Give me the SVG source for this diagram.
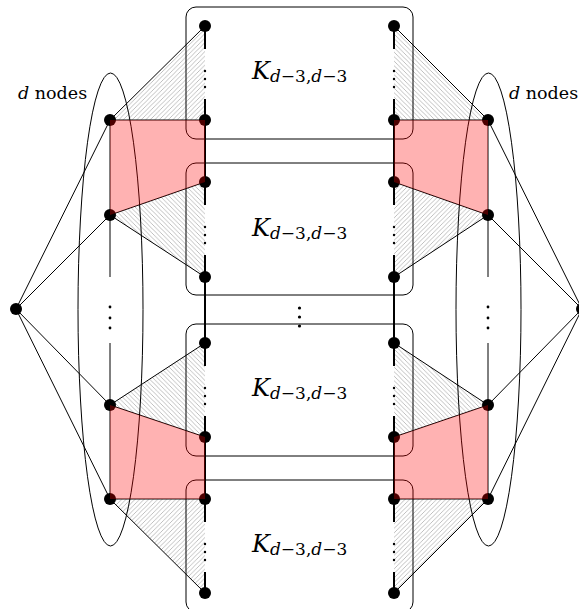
<svg xmlns="http://www.w3.org/2000/svg" width="579" height="609" viewBox="0 0 579 609">
<style>
.edge{stroke:#000;stroke-width:1;fill:none}
.col{stroke:#000;stroke-width:2;fill:none}
.box{stroke:#000;stroke-width:1;fill:none}
.ell{stroke:#000;stroke-width:1;fill:none}
.node{fill:#000}
.dot{fill:#000}
.pink{fill:#ff0000;fill-opacity:0.3;stroke:none}
.hne{fill:url(#ne);stroke:none}
.hnw{fill:url(#nw);stroke:none}
.lbl{font-family:"DejaVu Serif","Liberation Serif",serif;fill:#000}
</style>
<defs>
<pattern id="ne" patternUnits="userSpaceOnUse" width="4.5" height="4.5">
<path d="M0,4.5 L4.5,0 M-1,1 L1,-1 M3.5,5.5 L5.5,3.5" stroke="#b0b0b0" stroke-width="0.8"/>
</pattern>
<pattern id="nw" patternUnits="userSpaceOnUse" width="4.5" height="4.5">
<path d="M0,0 L4.5,4.5 M-1,3.5 L1,5.5 M3.5,-1 L5.5,1" stroke="#b0b0b0" stroke-width="0.8"/>
</pattern>
</defs>

<g id="hatches">
<polygon class="hne" points="110,120 205,26 205,120"/>
<polygon class="hnw" points="110,215 205,182 205,277"/>
<polygon class="hnw" points="110,405 205,343 205,437"/>
<polygon class="hne" points="110,499 205,499 205,593"/>
<polygon class="hnw" points="488,120 394,26 394,120"/>
<polygon class="hne" points="488,215 394,182 394,277"/>
<polygon class="hnw" points="488,405 394,343 394,437"/>
<polygon class="hne" points="488,499 394,499 394,593"/>
</g>

<g id="K1"><rect class="box" x="186" y="7" width="227" height="132" rx="10"/>
<text class="lbl" x="252" y="79" font-size="24"><tspan font-style="italic">K</tspan><tspan font-size="17" dy="3"><tspan font-style="italic">d</tspan>−3,<tspan font-style="italic">d</tspan>−3</tspan></text></g>
<g id="K2"><rect class="box" x="186" y="163" width="227" height="132" rx="10"/>
<text class="lbl" x="252" y="236" font-size="24"><tspan font-style="italic">K</tspan><tspan font-size="17" dy="3"><tspan font-style="italic">d</tspan>−3,<tspan font-style="italic">d</tspan>−3</tspan></text></g>
<g id="K3"><rect class="box" x="186" y="324" width="227" height="132" rx="10"/>
<text class="lbl" x="252" y="396" font-size="24"><tspan font-style="italic">K</tspan><tspan font-size="17" dy="3"><tspan font-style="italic">d</tspan>−3,<tspan font-style="italic">d</tspan>−3</tspan></text></g>
<g id="K4"><rect class="box" x="186" y="480" width="227" height="132" rx="10"/>
<text class="lbl" x="252" y="552" font-size="24"><tspan font-style="italic">K</tspan><tspan font-size="17" dy="3"><tspan font-style="italic">d</tspan>−3,<tspan font-style="italic">d</tspan>−3</tspan></text></g>

<g id="groups">
<ellipse class="ell" cx="110.5" cy="309.5" rx="32.5" ry="236.5"/>
<ellipse class="ell" cx="488.5" cy="309.5" rx="32.5" ry="236.5"/>
<text class="lbl" x="18" y="99" font-size="17.5"><tspan font-style="italic">d</tspan> nodes</text>
<text class="lbl" x="509" y="99" font-size="17.5"><tspan font-style="italic">d</tspan> nodes</text>
</g>

<g id="connectors">
<path class="edge" d="M16,309 L110,120 M16,309 L110,215 M16,309 L110,405 M16,309 L110,499"/>
<path class="edge" d="M582,309 L488,120 M582,309 L488,215 M582,309 L488,405 M582,309 L488,499"/>
<path class="edge" d="M110,120 L205,26 M110,120 L205,120 M110,215 L205,182 M110,215 L205,277 M110,405 L205,343 M110,405 L205,437 M110,499 L205,499 M110,499 L205,593"/>
<path class="edge" d="M488,120 L394,26 M488,120 L394,120 M488,215 L394,182 M488,215 L394,277 M488,405 L394,343 M488,405 L394,437 M488,499 L394,499 M488,499 L394,593"/>
<path class="edge" d="M110,120 L110,277 M110,343 L110,499 M488,120 L488,277 M488,343 L488,499"/>
<path class="col" d="M205,26 L205,49 M205,99 L205,205 M205,255 L205,366 M205,416 L205,522 M205,572 L205,593"/>
<path class="col" d="M394,26 L394,49 M394,99 L394,205 M394,255 L394,366 M394,416 L394,522 M394,572 L394,593"/>
</g>

<g id="vdots">
<circle class="dot" cx="110" cy="307" r="1.4"/><circle class="dot" cx="110" cy="318" r="1.4"/><circle class="dot" cx="110" cy="328" r="1.4"/>
<circle class="dot" cx="488" cy="307" r="1.4"/><circle class="dot" cx="488" cy="318" r="1.4"/><circle class="dot" cx="488" cy="328" r="1.4"/>
<circle class="dot" cx="299.5" cy="308" r="1.6"/><circle class="dot" cx="299.5" cy="317" r="1.6"/><circle class="dot" cx="299.5" cy="326" r="1.6"/>
<circle class="dot" cx="205" cy="71" r="1.2"/><circle class="dot" cx="205" cy="79" r="1.2"/><circle class="dot" cx="205" cy="87" r="1.2"/>
<circle class="dot" cx="205" cy="227" r="1.2"/><circle class="dot" cx="205" cy="235" r="1.2"/><circle class="dot" cx="205" cy="243" r="1.2"/>
<circle class="dot" cx="205" cy="388" r="1.2"/><circle class="dot" cx="205" cy="396" r="1.2"/><circle class="dot" cx="205" cy="404" r="1.2"/>
<circle class="dot" cx="205" cy="544" r="1.2"/><circle class="dot" cx="205" cy="552" r="1.2"/><circle class="dot" cx="205" cy="560" r="1.2"/>
<circle class="dot" cx="394" cy="71" r="1.2"/><circle class="dot" cx="394" cy="79" r="1.2"/><circle class="dot" cx="394" cy="87" r="1.2"/>
<circle class="dot" cx="394" cy="227" r="1.2"/><circle class="dot" cx="394" cy="235" r="1.2"/><circle class="dot" cx="394" cy="243" r="1.2"/>
<circle class="dot" cx="394" cy="388" r="1.2"/><circle class="dot" cx="394" cy="396" r="1.2"/><circle class="dot" cx="394" cy="404" r="1.2"/>
<circle class="dot" cx="394" cy="544" r="1.2"/><circle class="dot" cx="394" cy="552" r="1.2"/><circle class="dot" cx="394" cy="560" r="1.2"/>
</g>

<g id="n_lo"><circle class="node" cx="16" cy="309" r="6"/></g>
<g id="n_ro"><circle class="node" cx="582" cy="309" r="6"/></g>
<g id="L1"><circle class="node" cx="110" cy="120" r="6"/></g>
<g id="L2"><circle class="node" cx="110" cy="215" r="6"/></g>
<g id="L3"><circle class="node" cx="110" cy="405" r="6"/></g>
<g id="L4"><circle class="node" cx="110" cy="499" r="6"/></g>
<g id="R1"><circle class="node" cx="488" cy="120" r="6"/></g>
<g id="R2"><circle class="node" cx="488" cy="215" r="6"/></g>
<g id="R3"><circle class="node" cx="488" cy="405" r="6"/></g>
<g id="R4"><circle class="node" cx="488" cy="499" r="6"/></g>
<g id="A1"><circle class="node" cx="205" cy="26" r="6"/></g>
<g id="A2"><circle class="node" cx="205" cy="120" r="6"/></g>
<g id="A3"><circle class="node" cx="205" cy="182" r="6"/></g>
<g id="A4"><circle class="node" cx="205" cy="277" r="6"/></g>
<g id="A5"><circle class="node" cx="205" cy="343" r="6"/></g>
<g id="A6"><circle class="node" cx="205" cy="437" r="6"/></g>
<g id="A7"><circle class="node" cx="205" cy="499" r="6"/></g>
<g id="A8"><circle class="node" cx="205" cy="593" r="6"/></g>
<g id="B1"><circle class="node" cx="394" cy="26" r="6"/></g>
<g id="B2"><circle class="node" cx="394" cy="120" r="6"/></g>
<g id="B3"><circle class="node" cx="394" cy="182" r="6"/></g>
<g id="B4"><circle class="node" cx="394" cy="277" r="6"/></g>
<g id="B5"><circle class="node" cx="394" cy="343" r="6"/></g>
<g id="B6"><circle class="node" cx="394" cy="437" r="6"/></g>
<g id="B7"><circle class="node" cx="394" cy="499" r="6"/></g>
<g id="B8"><circle class="node" cx="394" cy="593" r="6"/></g>

<g id="highlights">
<polygon class="pink" points="110,120 205,120 205,182 110,215"/>
<polygon class="pink" points="110,405 205,437 205,499 110,499"/>
<polygon class="pink" points="394,120 488,120 488,215 394,182"/>
<polygon class="pink" points="394,437 488,405 488,499 394,499"/>
</g>
</svg>
